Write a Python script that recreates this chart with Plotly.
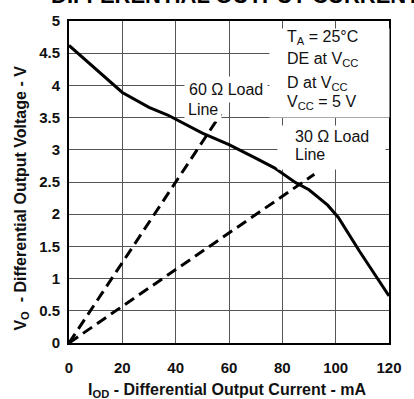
import plotly.graph_objects as go

# ---- data ----
current_ma = [0, 10, 20, 30, 37, 50, 60, 70, 77, 85, 90, 97, 101, 109, 120]
voltage_v = [4.62, 4.25, 3.89, 3.66, 3.54, 3.26, 3.08, 2.87, 2.72, 2.49, 2.38, 2.14, 1.95, 1.42, 0.73]

load60_i = [0, 57]
load60_v = [0, 3.56]
load30_i = [0, 92]
load30_v = [0, 2.62]

x_ticks = [0, 20, 40, 60, 80, 100, 120]
y_ticks = [0, 0.5, 1, 1.5, 2, 2.5, 3, 3.5, 4, 4.5, 5]
y_tick_text = ["0", "0.5", "1", "1.5", "2", "2.5", "3", "3.5", "4", "4.5", "5"]

FONT = "Arial, 'Liberation Sans', sans-serif"

fig = go.Figure()
fig.add_trace(go.Scatter(x=current_ma, y=voltage_v, mode="lines",
                         line=dict(color="black", width=3), showlegend=False))
fig.add_trace(go.Scatter(x=load60_i, y=load60_v, mode="lines",
                         line=dict(color="black", width=3, dash="11px,6px"), showlegend=False))
fig.add_trace(go.Scatter(x=load30_i, y=load30_v, mode="lines",
                         line=dict(color="black", width=3, dash="11px,6px"), showlegend=False))

# blank white panels behind the two right-hand label blocks (no curves pass there)
panels = [(97.5, 4.19, 119, 88), (98.6, 3.035, 107, 43)]
for cx, cy, w, h in panels:
    fig.add_annotation(text=" ", x=cx, y=cy, xref="x", yref="y", xanchor="center",
                       yanchor="middle", showarrow=False, bgcolor="white",
                       borderpad=0, width=w, height=h)

labels = [
    ("T<sub>A</sub> = 25°C", 81.5, 4.74, 0),
    ("DE at V<sub>CC</sub>", 81.5, 4.41, 0),
    ("D at V<sub>CC</sub>", 81.5, 4.03, 0),
    ("V<sub>CC</sub> = 5 V", 81.5, 3.73, 0),
    ("30 Ω Load", 84.3, 3.21, 0),
    ("Line", 84.3, 2.92, 0),
    ("60 Ω Load", 43.3, 3.93, 4),
    ("Line", 43.3, 3.63, 3),
]
for t, x, y, pad in labels:
    fig.add_annotation(text=t, x=x, y=y, xref="x", yref="y", xanchor="left",
                       yanchor="middle", showarrow=False,
                       bgcolor="white" if pad else None, borderpad=pad,
                       font=dict(family=FONT, size=16, color="#111"))

fig.add_annotation(text="<b>DIFFERENTIAL OUTPUT CURRENT</b>", x=0.521, y=1.035,
                   xref="paper", yref="paper", xanchor="center", yanchor="bottom",
                   showarrow=False, font=dict(family=FONT, size=22, color="black"))
fig.add_annotation(text="<b>V<sub>O</sub>  - Differential Output Voltage - V</b>",
                   x=-0.149, y=0.4495, xref="paper", yref="paper", textangle=-90,
                   xanchor="center", yanchor="middle", showarrow=False,
                   font=dict(family=FONT, size=16, color="#111"))
fig.add_annotation(text="<b>I<sub>OD</sub> - Differential Output Current - mA</b>",
                   x=0.494, y=-0.1468, xref="paper", yref="paper",
                   xanchor="center", yanchor="middle", showarrow=False,
                   font=dict(family=FONT, size=16, color="#111"))

axis_common = dict(showgrid=True, gridcolor="#555", gridwidth=1, zeroline=False,
                   showline=True, linecolor="black", linewidth=2, mirror=True,
                   ticks="", tickfont=dict(family=FONT, size=15, color="#111"))
fig.update_xaxes(range=[0, 120], tickvals=x_ticks,
                 ticktext=["<b>%d</b>" % v for v in x_ticks],
                 ticklabelstandoff=10, **axis_common)
fig.update_yaxes(range=[0, 5], tickvals=y_ticks,
                 ticktext=["<b>%s</b>" % s for s in y_tick_text],
                 ticklabelstandoff=4, **axis_common)

fig.update_layout(width=414, height=399, margin=dict(l=69, r=17, t=16, b=56),
                  paper_bgcolor="white", plot_bgcolor="white",
                  font=dict(family=FONT))
fig.write_html("out.html")
